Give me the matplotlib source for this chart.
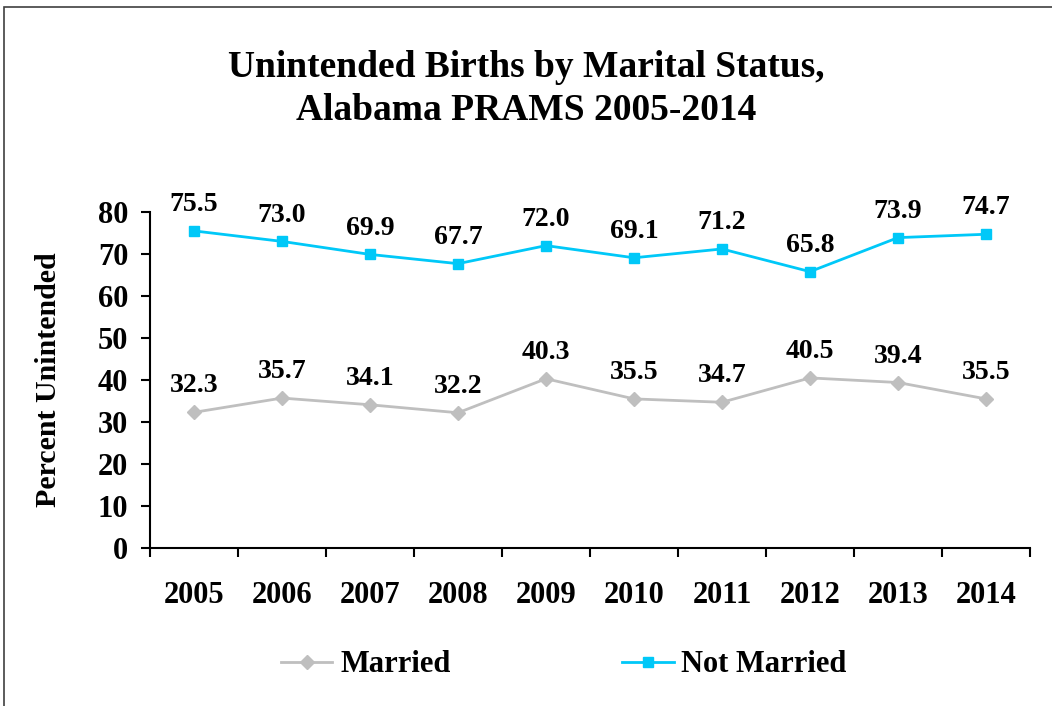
import matplotlib.pyplot as plt
from matplotlib.patches import Rectangle

years = ["2005", "2006", "2007", "2008", "2009", "2010", "2011", "2012", "2013", "2014"]
married = [32.3, 35.7, 34.1, 32.2, 40.3, 35.5, 34.7, 40.5, 39.4, 35.5]
not_married = [75.5, 73.0, 69.9, 67.7, 72.0, 69.1, 71.2, 65.8, 73.9, 74.7]

plt.rcParams['font.family'] = ['Liberation Serif', 'DejaVu Serif']
plt.rcParams['font.weight'] = 'bold'

fig = plt.figure(figsize=(10.52, 7.06), dpi=100)
ax = fig.add_axes([150 / 1052, 1 - 548 / 706, 880 / 1052, 336 / 706])

x = list(range(len(years)))
ax.plot(x, married, color="#BFBFBF", lw=2, marker="D", ms=7, label="Married")
ax.plot(x, not_married, color="#00C8F8", lw=2, marker="s", ms=6.5, label="Not Married")

for i in x:
    ax.annotate(f"{married[i]:.1f}", (i, married[i]), xytext=(0, 10), textcoords="offset points",
                ha="center", va="bottom", fontsize=20, fontweight="bold")
    ax.annotate(f"{not_married[i]:.1f}", (i, not_married[i]), xytext=(0, 10), textcoords="offset points",
                ha="center", va="bottom", fontsize=20, fontweight="bold")

ax.set_xlim(-0.5, len(years) - 0.5)
ax.set_ylim(0, 80)
ax.set_yticks(range(0, 81, 10))
ax.set_xticks(x)
ax.set_xticklabels(years)
ax.set_xticks([i - 0.5 for i in range(len(years) + 1)], minor=True)
ax.tick_params(axis="x", which="major", length=0, pad=24, labelsize=22)
ax.tick_params(axis="x", which="minor", length=6.5, width=1.5, direction="out")
ax.tick_params(axis="y", length=6.5, width=1.5, direction="out", labelsize=22, pad=9)
for lab in ax.get_xticklabels() + ax.get_yticklabels():
    lab.set_fontweight("bold")

ax.spines["top"].set_visible(False)
ax.spines["right"].set_visible(False)
ax.spines["left"].set_linewidth(1.5)
ax.spines["bottom"].set_linewidth(1.5)

ax.set_ylabel("Percent Unintended", fontsize=21.5, fontweight="bold")
ax.yaxis.set_label_coords(-0.1, 0.5)

fig.text(0.5, 1 - 89 / 706, "Unintended Births by Marital Status,\nAlabama PRAMS 2005-2014",
         ha="center", va="center", fontsize=27, fontweight="bold", linespacing=1.28)

fig.legend(loc="center", bbox_to_anchor=(0.5357, 1 - 665 / 706), ncol=2, frameon=False,
           columnspacing=5.6, handlelength=1.7, handletextpad=0.25,
           prop={"weight": "bold", "size": 22})

fig.patches.append(Rectangle((4 / 1052, -0.1), 1.2, 1 - 7 / 706 + 0.1, transform=fig.transFigure,
                             fill=False, edgecolor="#404040", lw=1.2))

fig.savefig("out.png", dpi=100)
